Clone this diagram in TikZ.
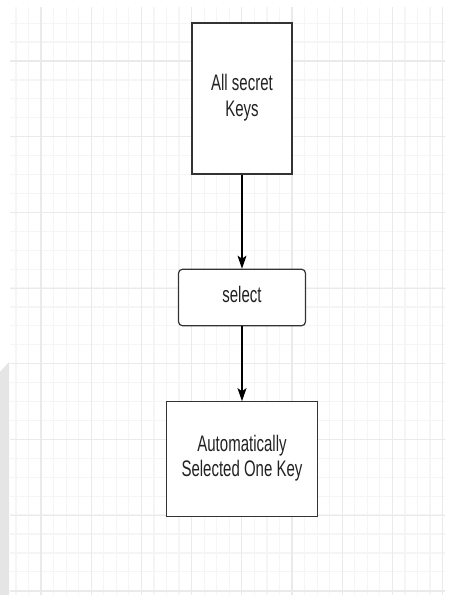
\documentclass[tikz,border=0pt]{standalone}
\usepackage{fontspec}
\setmainfont{Liberation Sans}
\usetikzlibrary{arrows.meta}
\definecolor{minorgrid}{HTML}{F5F5F5}
\definecolor{majorgrid}{HTML}{EAEAEA}
\definecolor{txt}{HTML}{222222}
\definecolor{edge}{HTML}{333333}
\newcommand{\tall}[1]{\scalebox{1}[1.5]{\begin{tabular}{@{}c@{}}#1\end{tabular}}}
\tikzset{
  box/.style={draw=edge, line width=1.2pt, fill=white, inner sep=0pt,
    text=txt, font=\fontsize{15}{16.7}\selectfont},
  conn/.style={line width=1.2pt, draw=black, -{Stealth[length=13pt,width=9pt,inset=3pt]}},
}
\begin{document}
\begin{tikzpicture}[x=1pt,y=-1pt]
\useasboundingbox (0,0) rectangle (452,595);
\fill[white] (0,0) rectangle (452,595);
% grid
\begin{scope}
\clip (10,7) rectangle (445,595);
\foreach \i in {-3,...,33} {
  \draw[minorgrid, line width=1.2pt] ({41+12.55*\i},0) -- ({41+12.55*\i},595);
}
\foreach \i in {-3,...,30} {
  \draw[minorgrid, line width=1.2pt] (0,{61+18.92*\i}) -- (452,{61+18.92*\i});
}
\foreach \i in {0,...,8} {
  \draw[majorgrid, line width=1.2pt] ({41+50.2*\i},0) -- ({41+50.2*\i},595);
}
\foreach \i in {-1,...,7} {
  \draw[majorgrid, line width=1.2pt] (0,{61+75.7*\i}) -- (452,{61+75.7*\i});
}
\end{scope}
\fill[black!10] (0,372) -- (9,362) -- (9,595) -- (0,595) -- cycle;
% nodes
\node[box, minimum width=100pt, minimum height=151pt] (keys) at (242,98.5) {\tall{All secret\\Keys}};
\node[box, rounded corners=4pt, minimum width=127pt, minimum height=56.5pt] (sel) at (242,297.5) {\tall{select}};
\node[box, minimum width=151pt, minimum height=114.5pt] (one) at (242,459) {\tall{Automatically\\Selected One Key}};
% connectors
\draw[conn] (keys.south) -- (sel.north);
\draw[conn] (sel.south) -- (one.north);
\end{tikzpicture}
\end{document}
